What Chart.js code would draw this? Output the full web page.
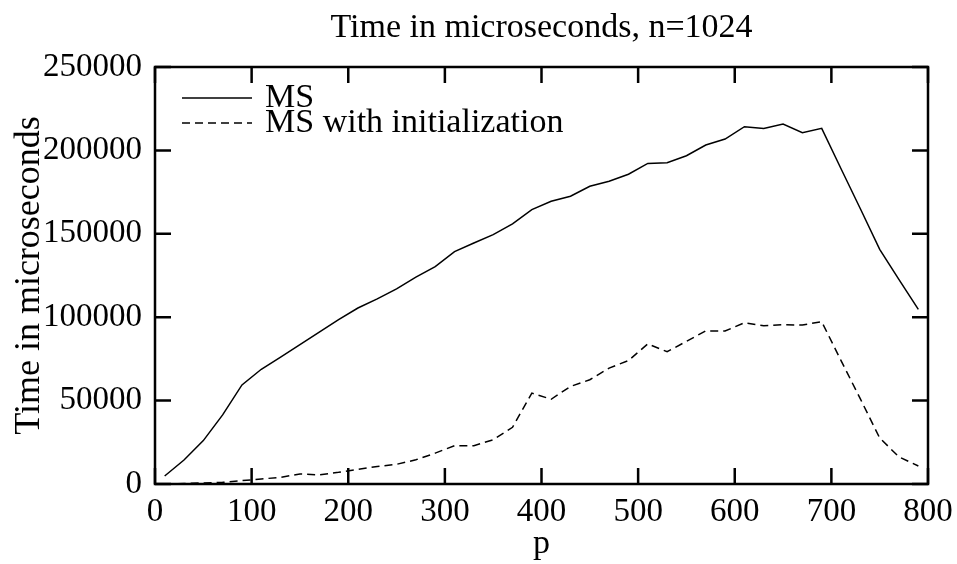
<!DOCTYPE html>
<html>
<head>
<meta charset="utf-8">
<script src="https://cdn.jsdelivr.net/npm/chart.js@4/dist/chart.umd.min.js"></script>
<style>
  html, body { margin: 0; padding: 0; background: #fff; }
  #wrap { width: 957px; height: 564px; }
</style>
</head>
<body>
<div id="wrap"><canvas id="chart"></canvas></div>
<script>
// processor counts p
const pValues = [10, 30, 50, 70, 90, 110, 130, 150, 170, 190,
                 210, 230, 250, 270, 290, 310, 330, 350, 370, 390,
                 410, 430, 450, 470, 490, 510, 530, 550, 570, 590,
                 610, 630, 650, 670, 690, 710, 730, 750, 770, 790];

// MS
const msTimes = [4800, 14400, 26000, 41400, 59400, 68800, 76000, 83500, 91000, 98500,
                 105500, 111000, 117000, 124000, 130300, 139300, 144500, 149500, 156000, 164500,
                 169500, 172500, 178500, 181500, 185700, 192200, 192600, 196800, 203200, 206800,
                 214200, 213200, 215800, 210600, 213200, 189000, 165000, 140700, 122500, 104700];

// MS with initialization
const msInitTimes = [0, 300, 600, 1000, 2000, 3000, 4000, 6000, 5500, 7000,
                     8800, 10500, 11800, 14500, 18500, 23000, 23000, 26500, 34000, 54500,
                     50800, 58500, 62500, 69500, 74000, 84000, 79300, 85500, 91800, 91700,
                     96700, 94900, 95500, 95300, 97300, 74000, 51000, 27600, 16200, 10800];

const xTicks = [0, 100, 200, 300, 400, 500, 600, 700, 800];
const yTicks = [0, 50000, 100000, 150000, 200000, 250000];

const chartTitle = 'Time in microseconds, n=1024';

const FONT = "'Liberation Serif', 'DejaVu Serif', serif";

function toPoints(values) {
  return pValues.map((p, i) => ({ x: p, y: values[i] }));
}

// title over the plot, frame, inward tick marks on all four sides, legend inside plot
const gnuplotFrame = {
  id: 'gnuplotFrame',
  afterDraw(chart) {
    const { ctx, chartArea: a, scales } = chart;
    const len = 16;
    ctx.save();

    ctx.fillStyle = '#000';
    ctx.font = '34px ' + FONT;
    ctx.textAlign = 'center';
    ctx.textBaseline = 'middle';
    ctx.fillText(chartTitle, (a.left + a.right) / 2, 28);

    ctx.strokeStyle = '#000';
    ctx.lineWidth = 2.5;
    ctx.strokeRect(a.left, a.top, a.right - a.left, a.bottom - a.top);
    ctx.beginPath();
    xTicks.forEach(v => {
      const px = scales.x.getPixelForValue(v);
      ctx.moveTo(px, a.bottom); ctx.lineTo(px, a.bottom - len);
      ctx.moveTo(px, a.top); ctx.lineTo(px, a.top + len);
    });
    yTicks.forEach(v => {
      const py = scales.y.getPixelForValue(v);
      ctx.moveTo(a.left, py); ctx.lineTo(a.left + len, py);
      ctx.moveTo(a.right, py); ctx.lineTo(a.right - len, py);
    });
    ctx.stroke();

    // legend
    ctx.textAlign = 'left';
    chart.data.datasets.forEach((ds, i) => {
      const y = a.top + 31 + i * 25;
      ctx.beginPath();
      ctx.lineWidth = 1.5;
      ctx.setLineDash(ds.borderDash || []);
      ctx.moveTo(a.left + 27, y);
      ctx.lineTo(a.left + 97, y);
      ctx.stroke();
      ctx.setLineDash([]);
      ctx.fillText(ds.label, a.left + 110, y);
    });
    ctx.restore();
  }
};

new Chart(document.getElementById('chart'), {
  type: 'line',
  data: {
    datasets: [
      {
        label: 'MS',
        data: toPoints(msTimes),
        borderColor: '#000',
        borderWidth: 1.5,
        pointRadius: 0,
        tension: 0,
        fill: false
      },
      {
        label: 'MS with initialization',
        data: toPoints(msInitTimes),
        borderColor: '#000',
        borderWidth: 1.5,
        borderDash: [8, 5],
        pointRadius: 0,
        tension: 0,
        fill: false
      }
    ]
  },
  options: {
    responsive: true,
    maintainAspectRatio: false,
    animation: false,
    layout: { padding: { left: 0, right: 29, top: 67, bottom: 0 } },
    plugins: {
      legend: { display: false },
      tooltip: { enabled: false },
      title: { display: false }
    },
    scales: {
      x: {
        type: 'linear',
        min: 0,
        max: 800,
        afterBuildTicks(scale) { scale.ticks = xTicks.map(v => ({ value: v })); },
        afterFit(scale) {
          scale.height = 80;
          scale.paddingLeft = 0;
          scale.paddingRight = 0;
        },
        grid: { display: false, drawTicks: false },
        border: { display: false },
        ticks: {
          color: '#000',
          padding: 9,
          maxRotation: 0,
          font: { family: FONT, size: 33 }
        },
        title: {
          display: true,
          text: 'p',
          color: '#000',
          padding: 0,
          font: { family: FONT, size: 34 }
        }
      },
      y: {
        min: 0,
        max: 250000,
        afterBuildTicks(scale) { scale.ticks = yTicks.map(v => ({ value: v })); },
        afterFit(scale) {
          scale.width = 155;
          scale.paddingTop = 0;
          scale.paddingBottom = 0;
        },
        grid: { display: false, drawTicks: false },
        border: { display: false },
        ticks: {
          color: '#000',
          padding: 13,
          font: { family: FONT, size: 33 },
          callback: v => String(v)
        },
        title: {
          display: true,
          text: 'Time in microseconds',
          color: '#000',
          padding: { top: 8, bottom: 0 },
          font: { family: FONT, size: 36 }
        }
      }
    }
  },
  plugins: [gnuplotFrame]
});
</script>
</body>
</html>
